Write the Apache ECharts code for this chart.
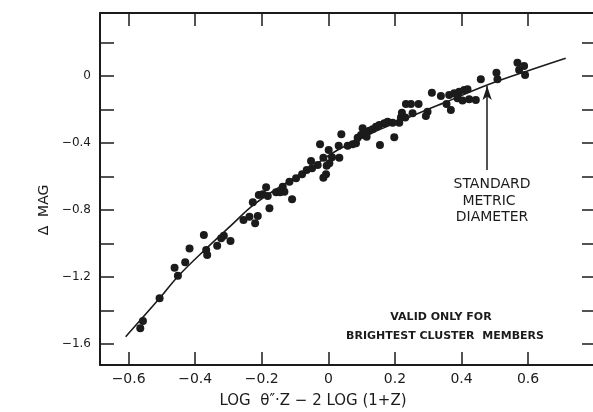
<!DOCTYPE html>
<html><head><meta charset="utf-8">
<script src="https://cdn.jsdelivr.net/npm/echarts@6/dist/echarts.min.js"></script>
<style>html,body{margin:0;padding:0;background:#fff}#c{width:593px;height:412px}</style>
</head><body><div id="c"></div>
<script>
// Observed points: x = LOG theta''.Z - 2 LOG(1+Z), y = Delta MAG
const ptsX = [-0.565,-0.557,-0.507,-0.462,-0.452,-0.430,-0.417,-0.374,-0.367,-0.364,-0.334,-0.322,-0.314,-0.294,
  -0.255,-0.237,-0.220,-0.212,-0.227,-0.209,-0.187,-0.182,-0.177,-0.197,-0.157,-0.145,-0.137,-0.132,-0.117,-0.109,
  -0.097,-0.079,-0.065,-0.049,-0.052,-0.032,-0.015,-0.015,-0.007,-0.005,0.003,0.011,0.033,-0.025,0.001,0.031,0.039,
  0.058,0.073,0.083,0.088,0.103,0.115,0.098,0.108,0.123,0.133,0.143,0.153,0.168,0.178,0.193,0.213,0.218,0.231,0.221,
  0.253,0.298,0.293,0.233,0.248,0.271,0.198,0.155,0.311,0.338,0.355,0.368,0.363,0.378,0.393,0.408,0.418,0.388,0.403,
  0.423,0.443,0.458,0.505,0.508,0.568,0.588,0.573,0.591];
const ptsY = [-1.506,-1.463,-1.327,-1.144,-1.192,-1.112,-1.029,-0.949,-1.039,-1.069,-1.013,-0.969,-0.953,-0.985,
  -0.860,-0.840,-0.879,-0.836,-0.754,-0.710,-0.664,-0.716,-0.790,-0.706,-0.694,-0.694,-0.661,-0.691,-0.631,-0.736,
  -0.611,-0.587,-0.561,-0.551,-0.507,-0.531,-0.488,-0.607,-0.587,-0.536,-0.521,-0.485,-0.488,-0.408,-0.442,-0.416,-0.348,
  -0.416,-0.408,-0.402,-0.368,-0.312,-0.362,-0.352,-0.333,-0.327,-0.318,-0.303,-0.293,-0.282,-0.273,-0.279,-0.279,-0.247,-0.247,-0.219,
  -0.223,-0.213,-0.239,-0.167,-0.167,-0.167,-0.366,-0.412,-0.100,-0.119,-0.167,-0.203,-0.113,-0.103,-0.094,-0.084,-0.079,-0.133,-0.147,
  -0.139,-0.143,-0.020,0.020,-0.020,0.079,0.060,0.036,0.006];
// Fitted curve as drawn on the figure
const curveX = [-0.609,-0.507,-0.450,-0.367,-0.292,-0.222,-0.122,-0.052,0.028,0.118,0.208,0.298,0.348,0.483,0.613,0.713];
const curveY = [-1.556,-1.327,-1.192,-1.030,-0.892,-0.765,-0.632,-0.545,-0.442,-0.352,-0.275,-0.200,-0.160,-0.050,0.040,0.106];
// Axis ticks
const xTicks = [-0.6,-0.4,-0.2,0,0.2,0.4,0.6];
const yTicks = [0.2,0,-0.2,-0.4,-0.6,-0.8,-1.0,-1.2,-1.4,-1.6];
const yLabels = [0,-0.4,-0.8,-1.2,-1.6];
// Arrow pointing to the standard metric diameter
const arrowX = [0.477,0.477];
const arrowY = [-0.561,-0.060];

const INK = '#1b1b1b';
const FONT = 'DejaVu Sans';
const fmt = v => { const r = Math.round(v*10)/10; return r === 0 ? '0' : (r < 0 ? '\u2212' + Math.abs(r) : String(r)); };

const chart = echarts.init(document.getElementById('c'), null, {renderer:'canvas'});
const axisLine = {show:true, onZero:false, lineStyle:{color:INK, width:2}};
chart.setOption({
  backgroundColor:'#ffffff',
  animation:false,
  grid:{left:100, top:13, width:494, height:352},
  xAxis:[
    {type:'value', position:'bottom', min:-0.686, max:0.795, axisLine,
     splitLine:{show:false},
     axisTick:{show:true, inside:true, length:13, customValues:xTicks, lineStyle:{color:INK,width:1.5}},
     axisLabel:{show:true, customValues:xTicks, formatter:fmt, color:INK, fontFamily:FONT, fontSize:14, margin:7}},
    {type:'value', position:'top', min:-0.686, max:0.795, axisLine,
     splitLine:{show:false},
     axisTick:{show:true, inside:true, length:13, customValues:xTicks, lineStyle:{color:INK,width:1.5}},
     axisLabel:{show:false}}
  ],
  yAxis:[
    {type:'value', position:'left', min:-1.725, max:0.376, axisLine,
     splitLine:{show:false},
     axisTick:{show:true, inside:true, length:14, customValues:yTicks, lineStyle:{color:INK,width:1.5}},
     axisLabel:{show:true, customValues:yLabels, formatter:fmt, color:INK, fontFamily:FONT, fontSize:12, margin:9}},
    {type:'value', position:'right', min:-1.725, max:0.376, axisLine:{show:false, onZero:false},
     splitLine:{show:false},
     axisTick:{show:true, inside:true, length:11, customValues:yTicks, lineStyle:{color:INK,width:1.5}},
     axisLabel:{show:false}}
  ],
  series:[
    {type:'line', xAxisIndex:0, yAxisIndex:0, data:curveX.map((x,i)=>[x,curveY[i]]),
     smooth:0.4, showSymbol:false, symbol:'none', lineStyle:{color:INK, width:1.6}, z:2},
    {type:'scatter', xAxisIndex:0, yAxisIndex:0, data:ptsX.map((x,i)=>[x,ptsY[i]]),
     symbol:'circle', symbolSize:8, itemStyle:{color:INK, opacity:1}, z:3},
    {type:'line', xAxisIndex:0, yAxisIndex:0, data:[], symbol:'none',
     markLine:{silent:true, symbol:['none','arrow'], symbolSize:[7,14], label:{show:false},
       lineStyle:{color:INK, width:1.5, type:'solid'},
       data:[[{coord:[arrowX[0],arrowY[0]]},{coord:[arrowX[1],arrowY[1]]}]]}}
  ],
  graphic:[
    {type:'text', x:313, y:401, style:{text:'LOG  \u03B8\u2033\u00B7Z \u2212 2 LOG (1+Z)', font:'15px "DejaVu Sans"', fill:INK, align:'center', verticalAlign:'middle'}},
    {type:'text', x:44, y:210, rotation:Math.PI/2, style:{text:'\u0394  MAG', font:'14px "DejaVu Sans"', fill:INK, align:'center', verticalAlign:'middle'}},
    {type:'text', x:492, y:184, style:{text:'STANDARD', font:'14px "DejaVu Sans"', fill:INK, align:'center', verticalAlign:'middle'}},
    {type:'text', x:489, y:201, style:{text:'METRIC', font:'14px "DejaVu Sans"', fill:INK, align:'center', verticalAlign:'middle'}},
    {type:'text', x:492, y:217, style:{text:'DIAMETER', font:'14px "DejaVu Sans"', fill:INK, align:'center', verticalAlign:'middle'}},
    {type:'text', x:441, y:317, style:{text:'VALID ONLY FOR', font:'bold 11px "DejaVu Sans"', fill:INK, align:'center', verticalAlign:'middle'}},
    {type:'text', x:445, y:336, style:{text:'BRIGHTEST CLUSTER  MEMBERS', font:'bold 11px "DejaVu Sans"', fill:INK, align:'center', verticalAlign:'middle'}}
  ]
});
</script></body></html>
